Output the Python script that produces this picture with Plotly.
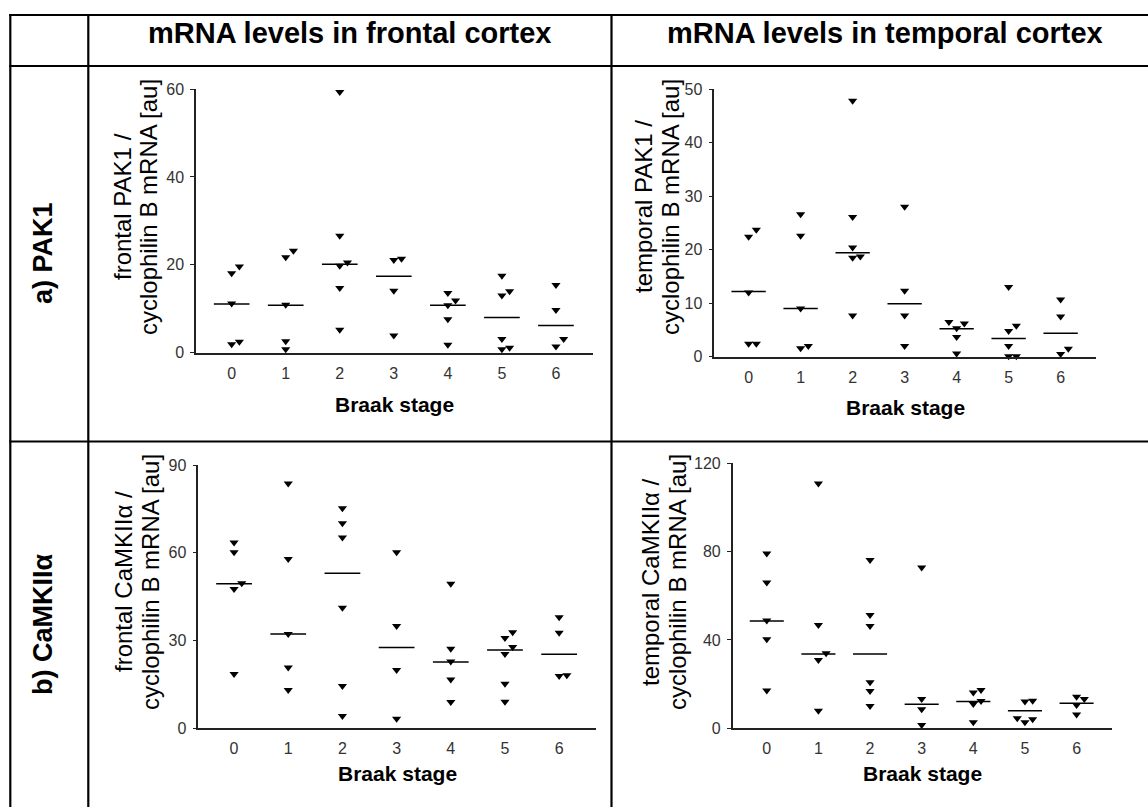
import plotly.graph_objects as go

W, H = 1148, 807

# ---------------- data ----------------
stages = [0, 1, 2, 3, 4, 5, 6]
stage_labels = ["0", "1", "2", "3", "4", "5", "6"]

frontal_pak1 = [
    [18.1, 19.6, 11.2, 1.9, 2.5],
    [23.2, 21.7, 10.9, 2.6, 0.8],
    [59.3, 26.6, 19.8, 20.5, 14.7, 5.2],
    [21.1, 21.4, 14.1, 3.9],
    [13.6, 11.9, 10.8, 7.6, 1.8],
    [17.5, 14.0, 13.0, 3.1, 1.1, 0.8],
    [15.4, 9.7, 3.1, 1.4],
]
frontal_pak1_median = [11.1, 10.8, 20.1, 17.4, 10.8, 8.0, 6.2]

temporal_pak1 = [
    [22.4, 23.7, 12.0, 2.4, 2.4],
    [26.6, 22.6, 9.0, 1.6, 2.0],
    [47.8, 26.1, 20.4, 18.7, 18.5, 7.7],
    [28.0, 12.3, 7.7, 2.0],
    [6.2, 6.5, 5.3, 3.7, 0.6],
    [13.0, 5.8, 4.8, 2.0, 0.1, 0.1],
    [10.7, 7.5, 0.5, 1.5],
]
temporal_pak1_median = [12.2, 9.0, 19.4, 9.9, 5.2, 3.4, 4.4]

frontal_camk = [
    [63.5, 60.2, 49.6, 47.6, 18.6],
    [83.7, 57.9, 32.2, 20.8, 13.1],
    [75.2, 70.1, 65.2, 41.2, 14.5, 4.2],
    [60.2, 35.0, 19.9, 3.3],
    [49.4, 27.2, 22.8, 16.7, 9.0],
    [32.8, 30.9, 27.8, 25.4, 15.2, 9.1],
    [38.0, 32.7, 17.9, 18.1],
]
frontal_camk_median = [49.4, 32.2, 53.0, 27.6, 22.7, 26.8, 25.3]

temporal_camk = [
    [79.2, 66.0, 48.8, 40.3, 17.1],
    [110.9, 46.8, 34.0, 30.9, 8.0],
    [76.2, 51.3, 46.3, 20.8, 16.9, 10.1],
    [72.8, 13.3, 8.6, 1.5],
    [17.4, 16.2, 12.4, 11.0, 2.7],
    [12.5, 12.1, 4.5, 2.7, 4.1],
    [14.3, 13.3, 10.6, 6.3],
]
temporal_camk_median = [48.6, 33.7, 33.7, 10.9, 12.1, 8.0, 11.3]

pak1_front_ticks = [0, 20, 40, 60]
pak1_temp_ticks = [0, 10, 20, 30, 40, 50]
camk_front_ticks = [0, 30, 60, 90]
camk_temp_ticks = [0, 40, 80, 120]

col_headers = ["mRNA levels in frontal cortex", "mRNA levels in temporal cortex"]
row_headers = ["a) PAK1", "b) CaMKIIα"]
x_title = "Braak stage"
y_titles = [
    ("frontal PAK1 /", "cyclophilin B mRNA [au]"),
    ("temporal PAK1 /", "cyclophilin B mRNA [au]"),
    ("frontal CaMKIIα /", "cyclophilin B mRNA [au]"),
    ("temporal CaMKIIα /", "cyclophilin B mRNA [au]"),
]

# ---------------- layout geometry (pixels) ----------------
def px(x):
    return x / W

def py(y):
    return 1 - y / H

FONT = "Liberation Sans, Arial, sans-serif"
XR = [-0.66, 6.68]

panels = [
    dict(data=frontal_pak1, med=frontal_pak1_median, ticks=pak1_front_ticks,
         xd=(196, 592.7), yd=(89, 352.7), tx=(122, 148), ty=207, xt=52),
    dict(data=temporal_pak1, med=temporal_pak1_median, ticks=pak1_temp_ticks,
         xd=(714.3, 1096), yd=(89, 356.7), tx=(643, 670), ty=207, xt=51),
    dict(data=frontal_camk, med=frontal_camk_median, ticks=camk_front_ticks,
         xd=(198.3, 596), yd=(465, 728.3), tx=(123, 150), ty=582, xt=45),
    dict(data=temporal_camk, med=temporal_camk_median, ticks=camk_temp_ticks,
         xd=(732.7, 1111.7), yd=(463.3, 728.3), tx=(650, 677), ty=582, xt=45),
]


def dodge(groups, ppu_y, ppu_x, thresh=7.5, step=7.7):
    xs, ys = [], []
    for i, vals in enumerate(groups):
        placed = []
        for v in sorted(vals):
            yp = v * ppu_y
            chosen = 0
            for slot in [0, 1, -1, 2, -2]:
                if all(abs(yp - p) >= thresh for s, p in placed if s == slot):
                    chosen = slot
                    break
            placed.append((chosen, yp))
            xs.append(stages[i] + chosen * step / ppu_x)
            ys.append(v)
    return xs, ys


fig = go.Figure()
annotations = []
layout_axes = {}

for k, p in enumerate(panels):
    n = "" if k == 0 else str(k + 1)
    xa, ya = "x" + n, "y" + n
    x0, x1 = p["xd"]
    yt, yb = p["yd"]
    ymax = p["ticks"][-1]
    ppu_x = (x1 - x0) / (XR[1] - XR[0])
    ppu_y = (yb - yt) / ymax
    xs, ys = dodge(p["data"], ppu_y, ppu_x)
    fig.add_trace(go.Scatter(
        x=xs, y=ys, mode="markers", xaxis=xa, yaxis=ya,
        marker=dict(symbol="triangle-down", size=8, color="black"),
        cliponaxis=False, showlegend=False, hoverinfo="skip"))
    mx, my = [], []
    for i, m in enumerate(p["med"]):
        mx += [stages[i] - 0.33, stages[i] + 0.33, None]
        my += [m, m, None]
    fig.add_trace(go.Scatter(
        x=mx, y=my, mode="lines", xaxis=xa, yaxis=ya,
        line=dict(color="black", width=1.5), cliponaxis=False,
        showlegend=False, hoverinfo="skip"))

    layout_axes["xaxis" + n] = dict(
        domain=[px(x0), px(x1)], range=XR, anchor=ya, automargin=False,
        tickvals=stages, ticktext=stage_labels, ticks="",
        showline=True, linecolor="#222", linewidth=1.5,
        showgrid=False, zeroline=False, ticklabelstandoff=5,
        tickfont=dict(family=FONT, size=16, color="#333"), fixedrange=True)
    layout_axes["yaxis" + n] = dict(
        domain=[py(yb), py(yt)], range=[0, ymax], anchor=xa, automargin=False,
        tickvals=p["ticks"], ticks="outside", ticklen=4, tickwidth=1.2,
        tickcolor="#222", showline=True, linecolor="#222", linewidth=1.5,
        showgrid=False, zeroline=False, ticklabelstandoff=3,
        tickfont=dict(family=FONT, size=16, color="#333"), fixedrange=True)

    annotations.append(dict(
        text="<b>" + x_title + "</b>", xref="paper", yref="paper",
        x=px((x0 + x1) / 2), y=py(yb + p["xt"]), xanchor="center", yanchor="middle",
        showarrow=False, font=dict(family=FONT, size=21, color="black")))
    for line_text, lx in zip(y_titles[k], p["tx"]):
        annotations.append(dict(
            text=line_text, xref="paper", yref="paper", textangle=-90,
            x=px(lx), y=py(p["ty"]), xanchor="center", yanchor="middle",
            showarrow=False, font=dict(family=FONT, size=24, color="black")))

for txt, cx in zip(col_headers, [349.5, 885]):
    annotations.append(dict(
        text="<b>" + txt + "</b>", xref="paper", yref="paper",
        x=px(cx), y=py(33), xanchor="center", yanchor="middle",
        showarrow=False, font=dict(family=FONT, size=29, color="black")))
for txt, cy in zip(row_headers, [253, 625]):
    annotations.append(dict(
        text="<b>" + txt + "</b>", xref="paper", yref="paper", textangle=-90,
        x=px(43), y=py(cy), xanchor="center", yanchor="middle",
        showarrow=False, font=dict(family=FONT, size=27, color="black")))

shapes = []
for yl in [15, 66, 441.5]:
    shapes.append(dict(type="line", xref="paper", yref="paper",
                       x0=px(9.3), x1=px(1160), y0=py(yl), y1=py(yl),
                       line=dict(color="black", width=2.2)))
for xl in [10.3, 88.3, 611.5]:
    shapes.append(dict(type="line", xref="paper", yref="paper",
                       x0=px(xl), x1=px(xl), y0=py(14), y1=py(820),
                       line=dict(color="black", width=2.2)))

fig.update_layout(
    template="none",
    width=W, height=H, margin=dict(l=0, r=0, t=0, b=0, pad=0, autoexpand=False),
    paper_bgcolor="white", plot_bgcolor="white",
    annotations=annotations, shapes=shapes, showlegend=False,
    **layout_axes)

fig.write_html("out.html", config={"displayModeBar": False})
